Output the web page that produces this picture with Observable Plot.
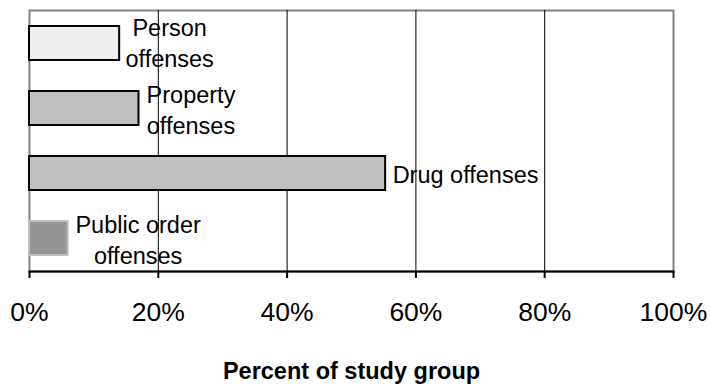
<!DOCTYPE html>
<html>
<head>
<meta charset="utf-8">
<script src="https://cdn.jsdelivr.net/npm/d3@7"></script>
<script src="https://cdn.jsdelivr.net/npm/@observablehq/plot@0.6"></script>
<style>
  html, body { margin: 0; padding: 0; background: #fff; }
  #chart svg { display: block; }
</style>
</head>
<body>
<div id="chart"></div>
<script>
// Offense categories and the share of the study group in each
const categories = ["Person", "Property", "Drug", "Public order"];
const labels = ["Person\noffenses", "Property\noffenses", "Drug offenses", "Public order\noffenses"];
const percents = [14, 17, 55.3, 6];
const xTicks = [0, 20, 40, 60, 80, 100];
const axisTitle = "Percent of study group";

const rows = categories.map((c, i) => ({category: c, label: labels[i], value: percents[i]}));
const byCat = c => rows.filter(d => d.category === c);

const font = "'Liberation Sans', Arial, Helvetica, sans-serif";

const fills = {"Person": "#efefef", "Property": "#c0c0c0", "Drug": "#c0c0c0", "Public order": "#969696"};
const strokes = {"Person": "#000", "Property": "#000", "Drug": "#000", "Public order": "#bdbdbd"};

const labelStyle = {x: "value", y: "category", text: "label", fontSize: 23.5, lineHeight: 1.3, fill: "#000"};

const chart = Plot.plot({
  width: 710,
  height: 386,
  marginLeft: 29,
  marginRight: 37,
  marginTop: 10,
  marginBottom: 115,
  style: {fontFamily: font, background: "#fff", overflow: "visible"},
  x: {domain: [0, 100]},
  y: {domain: categories, paddingInner: 0.48, paddingOuter: 0.24, axis: null},
  marks: [
    // plot-area border: grey on top and sides
    Plot.frame({stroke: "#808080", strokeWidth: 2}),
    Plot.gridX({ticks: xTicks.filter(t => t > 0 && t < 100), stroke: "#000", strokeOpacity: 1, strokeWidth: 1}),
    Plot.barX(rows, {
      x: "value", y: "category",
      fill: d => fills[d.category],
      stroke: d => strokes[d.category],
      strokeWidth: 2
    }),
    Plot.text(byCat("Person"), {...labelStyle, dx: 50, dy: -2, textAnchor: "middle"}),
    Plot.text(byCat("Property"), {...labelStyle, dx: 52, textAnchor: "middle"}),
    Plot.text(byCat("Drug"), {...labelStyle, dx: 7, textAnchor: "start"}),
    Plot.text(byCat("Public order"), {...labelStyle, dx: 70, textAnchor: "middle"}),
    Plot.frame({anchor: "bottom", stroke: "#000", strokeWidth: 2}),
    Plot.axisX({
      ticks: xTicks,
      tickFormat: d => d + "%",
      tickSize: 7,
      tickPadding: 24,
      strokeWidth: 2,
      stroke: "#000",
      fill: "#000",
      fontSize: 26.5,
      label: null
    }),
    Plot.text([axisTitle], {
      frameAnchor: "bottom",
      dy: 107,
      fontSize: 23.5,
      fontWeight: "bold",
      fill: "#000"
    })
  ]
});

document.getElementById("chart").append(chart);
</script>
</body>
</html>
